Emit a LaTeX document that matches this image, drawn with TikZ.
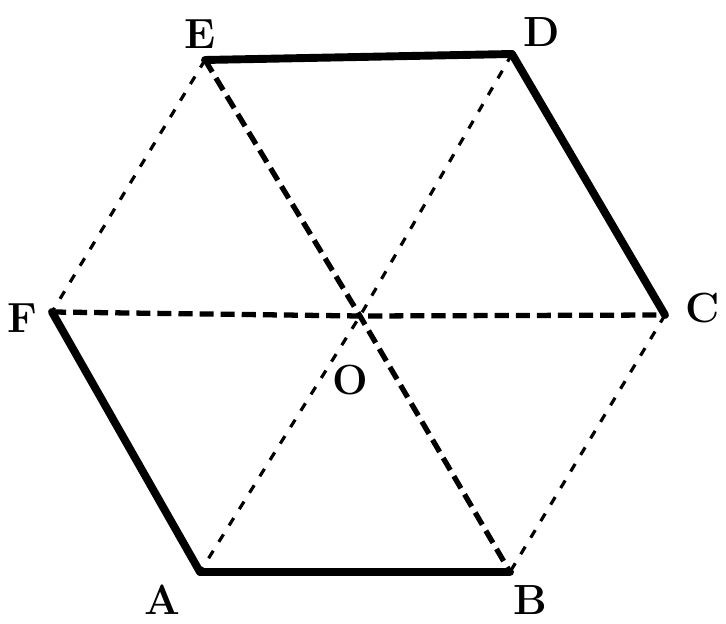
\documentclass[tikz,border=0pt]{standalone}
\usepackage{tikz}
\usetikzlibrary{positioning}

\tikzset{
    side/.style={line width=4.5pt, line join=round, line cap=round},
    diag/.style={line width=3pt, dash pattern=on 8pt off 4pt},
    faint/.style={line width=1.8pt, dash pattern=on 5pt off 6pt},
    vlabel/.style={font=\fontsize{24}{28}\selectfont\bfseries, inner sep=1pt}
}

\begin{document}
\begin{tikzpicture}[x=0.02cm, y=-0.02cm]
    \useasboundingbox (0,0) rectangle (726,624);
    \coordinate (E) at (205,60);
    \coordinate (D) at (512,54);
    \coordinate (C) at (665,315);
    \coordinate (B) at (510,572);
    \coordinate (A) at (200,572);
    \coordinate (F) at (52,312);
    \coordinate (O) at (360,316);

    \node [vlabel] (lE) at (200,34) {E};
    \node [vlabel] (lD) at (542,32) {D};
    \node [vlabel] (lC) at (703,308) {C};
    \node [vlabel] (lB) at (530,600) {B};
    \node [vlabel] (lA) at (162,600) {A};
    \node [vlabel] (lF) at (22,318) {F};
    \node [vlabel] (lO) at (350,380) {O};

    \draw [side] (E) -- (D) -- (C);
    \draw [side] (F) -- (A) -- (B);
    \draw [faint] (E) -- (F);
    \draw [faint] (C) -- (B);
    \draw [diag] (E) -- (O) -- (B);
    \draw [diag] (F) -- (O) -- (C);
    \draw [faint] (D) -- (O) -- (A);
\end{tikzpicture}
\end{document}
